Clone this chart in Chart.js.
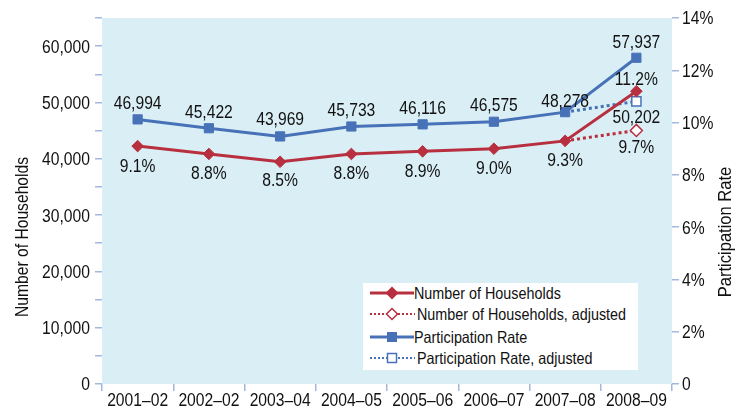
<!DOCTYPE html>
<html><head><meta charset="utf-8">
<script src="https://cdn.jsdelivr.net/npm/chart.js@4.4.0/dist/chart.umd.min.js"></script>
<style>
html,body{margin:0;padding:0;background:#fff;}
#wrap{position:relative;width:746px;height:411px;overflow:hidden;}
#legend{position:absolute;left:363px;top:283px;width:275px;height:87px;background:#fff;font-family:'Liberation Sans',Arial,sans-serif;font-size:16.5px;color:#111;}
.row{position:absolute;left:7px;height:20px;display:flex;align-items:center;white-space:nowrap;}
.row svg{display:block;flex:none;}
.row span{display:inline-block;transform:scaleX(0.87);transform-origin:left center;}
</style></head><body>
<div id="wrap"><canvas id="c" width="746" height="411"></canvas><div id="legend"></div></div>
<script>
// ---- data ----
const categories = ['2001–02','2002–02','2003–04','2004–05','2005–06','2006–07','2007–08','2008–09'];
const households = [46994, 45422, 43969, 45733, 46116, 46575, 48278, 57937];
const householdsAdjusted = [null, null, null, null, null, null, 48278, 50202];
const rates = [9.1, 8.8, 8.5, 8.8, 8.9, 9.0, 9.3, 11.2];
const ratesAdjusted = [null, null, null, null, null, null, 9.3, 9.7];
const seriesNames = ['Number of Households', 'Number of Households, adjusted', 'Participation Rate', 'Participation Rate, adjusted'];
const leftTickValues = [0, 10000, 20000, 30000, 40000, 50000, 60000];
const leftTickLabels = ['0', '10,000', '20,000', '30,000', '40,000', '50,000', '60,000'];
const rightTickValues = [0, 2, 4, 6, 8, 10, 12, 14];
const rightTickLabels = ['0', '2%', '4%', '6%', '8%', '10%', '12%', '14%'];
const leftTitle = 'Number of Households';
const rightTitle = 'Participation Rate';

// ---- styles ----
const RED = '#B8303F', BLUE = '#4872B8', BG = '#DAEEF6', TICK = '#A3B8DE', TXT = '#111';
const FAM = "'Liberation Sans',Arial,sans-serif";
const SX = 0.87; // horizontal condensing of text
const fmtNum = v => v.toLocaleString('en-US');
const fmtPct = v => v.toFixed(1) + '%';
// label vertical offsets (px, label centre relative to point) per dataset index
const labelSpec = {
  0: {fmt: fmtPct, off: [19, 19, 18, 19, 19, 19, 19, -13]},
  1: {fmt: fmtPct, off: [null, null, null, null, null, null, null, 16]},
  2: {fmt: fmtNum, off: [-17, -17, -18, -17, -17, -17, -12, -16]},
  3: {fmt: fmtNum, off: [null, null, null, null, null, null, null, 15]}
};

function drawText(ctx, text, x, y, size, align, rot) {
  ctx.save();
  ctx.translate(x, y);
  if (rot) ctx.rotate(rot);
  ctx.scale(SX, 1);
  ctx.font = size + 'px ' + FAM;
  ctx.fillStyle = TXT;
  ctx.textAlign = align;
  ctx.textBaseline = 'alphabetic';
  ctx.fillText(text, 0, 0);
  ctx.restore();
}

const bgPlugin = {
  id: 'bgArea',
  beforeDraw(chart) {
    const {ctx, chartArea: a} = chart;
    ctx.save(); ctx.fillStyle = BG;
    ctx.fillRect(a.left, a.top, a.right - a.left, a.bottom - a.top);
    ctx.restore();
  }
};
const textPlugin = {
  id: 'texts',
  afterDraw(chart) {
    const ctx = chart.ctx;
    const capHalf = 0.716 * 18 / 2;
    // value labels
    chart.data.datasets.forEach((ds, i) => {
      const spec = labelSpec[i]; if (!spec) return;
      const meta = chart.getDatasetMeta(i);
      meta.data.forEach((pt, j) => {
        const v = ds.data[j];
        if (v == null || spec.off[j] == null) return;
        drawText(ctx, spec.fmt(v), pt.x, pt.y + spec.off[j] + capHalf, 18, 'center');
      });
    });
    // tick labels
    const xs = chart.scales.x, yl = chart.scales.y, yr = chart.scales.y1;
    xs.ticks.forEach((t, i) => drawText(ctx, categories[t.value], xs.getPixelForTick(i), 406, 18, 'center'));
    yl.ticks.forEach((t, i) => {
      const k = leftTickValues.indexOf(t.value);
      if (k >= 0) drawText(ctx, leftTickLabels[k], 90, yl.getPixelForTick(i) + capHalf, 18, 'right');
    });
    yr.ticks.forEach((t, i) => {
      const k = rightTickValues.indexOf(t.value);
      if (k >= 0) drawText(ctx, rightTickLabels[k], 682, yr.getPixelForTick(i) + capHalf, 18, 'left');
    });
    // axis titles (both read bottom-to-top)
    drawText(ctx, leftTitle, 28, 237, 18, 'center', -Math.PI / 2);
    drawText(ctx, rightTitle, 731, 232, 19, 'center', -Math.PI / 2);
  }
};

const grid = {drawOnChartArea: false, drawTicks: true, tickLength: 7, color: TICK, lineWidth: 1.5};

new Chart(document.getElementById('c'), {
  type: 'line',
  data: {
    labels: categories,
    datasets: [
      {label: seriesNames[0], data: rates, yAxisID: 'y1', borderColor: RED, backgroundColor: RED,
       borderWidth: 3, pointStyle: 'rectRot', pointRadius: 5.8, pointBorderWidth: 1, pointBackgroundColor: RED, pointBorderColor: RED, tension: 0},
      {label: seriesNames[1], data: ratesAdjusted, yAxisID: 'y1', borderColor: RED, backgroundColor: '#fff',
       borderWidth: 3, borderDash: [3, 3], pointStyle: 'rectRot', pointRadius: [0, 0, 0, 0, 0, 0, 0, 6], pointBorderWidth: 1.5,
       pointBackgroundColor: '#fff', pointBorderColor: RED, tension: 0},
      {label: seriesNames[2], data: households, yAxisID: 'y', borderColor: BLUE, backgroundColor: BLUE,
       borderWidth: 3, pointStyle: 'rect', pointRadius: 6.5, pointBorderWidth: 1, pointBackgroundColor: BLUE, pointBorderColor: BLUE, tension: 0},
      {label: seriesNames[3], data: householdsAdjusted, yAxisID: 'y', borderColor: BLUE, backgroundColor: '#fff',
       borderWidth: 3, borderDash: [3, 3], pointStyle: 'rect', pointRadius: [0, 0, 0, 0, 0, 0, 0, 6.5], pointBorderWidth: 1.5,
       pointBackgroundColor: '#fff', pointBorderColor: BLUE, tension: 0}
    ]
  },
  options: {
    responsive: false, animation: false, events: [],
    layout: {padding: {top: 18, left: 0, right: 0, bottom: 0}},
    plugins: {legend: {display: false}, tooltip: {enabled: false}, title: {display: false}},
    scales: {
      x: {offset: true, grid: Object.assign({offset: true}, grid), border: {display: false},
          ticks: {display: false, autoSkip: false, maxRotation: 0},
          afterFit(s) { s.height = 27; }},
      y: {position: 'left', min: 0, max: 65000, grid: grid, border: {display: false},
          ticks: {display: false, stepSize: 5000},
          afterFit(s) { s.width = 102; }},
      y1: {position: 'right', min: 0, max: 14, grid: grid, border: {display: false},
          ticks: {display: false, stepSize: 2},
          afterFit(s) { s.width = 74; }}
    }
  },
  plugins: [bgPlugin, textPlugin]
});

// ---- HTML legend ----
const samples = [
  `<svg width="44" height="14"><line x1="0" y1="7" x2="44" y2="7" stroke="${RED}" stroke-width="3"/><polygon points="22,0.5 28.5,7 22,13.5 15.5,7" fill="${RED}"/></svg>`,
  `<svg width="47" height="14"><line x1="0" y1="7" x2="45" y2="7" stroke="${RED}" stroke-width="2" stroke-dasharray="2,2"/><polygon points="22,1.5 27.5,7 22,12.5 16.5,7" fill="#fff" stroke="${RED}" stroke-width="1.5"/></svg>`,
  `<svg width="44" height="14"><line x1="0" y1="7" x2="44" y2="7" stroke="${BLUE}" stroke-width="3"/><rect x="17" y="2" width="10" height="10" fill="${BLUE}"/></svg>`,
  `<svg width="47" height="14"><line x1="0" y1="7" x2="45" y2="7" stroke="${BLUE}" stroke-width="2" stroke-dasharray="2,2"/><rect x="17.5" y="2.5" width="9" height="9" fill="#fff" stroke="${BLUE}" stroke-width="1.5"/></svg>`
];
const rowTops = [0, 21, 44, 65];
const leg = document.getElementById('legend');
seriesNames.forEach((n, i) => {
  const d = document.createElement('div');
  d.className = 'row'; d.style.top = rowTops[i] + 'px';
  d.innerHTML = samples[i] + '<span>' + n + '</span>';
  leg.appendChild(d);
});
</script>
</body></html>
